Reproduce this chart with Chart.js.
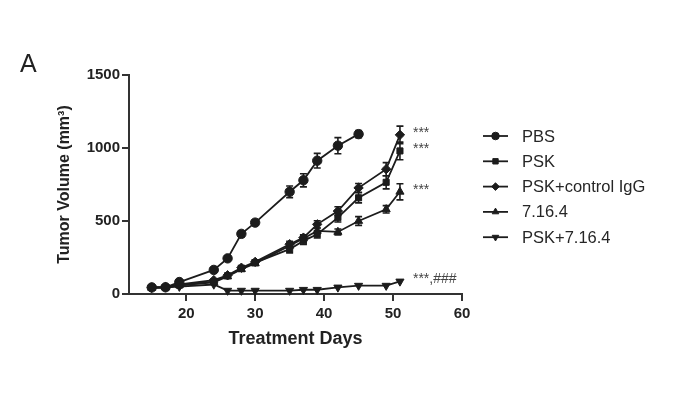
<!DOCTYPE html>
<html>
<head>
<meta charset="utf-8">
<script src="https://cdn.jsdelivr.net/npm/chart.js@4.4.1/dist/chart.umd.min.js"></script>
<style>
  html, body { margin: 0; padding: 0; background: #fff; }
  #wrap { width: 693px; height: 399px; position: relative; }
</style>
</head>
<body>
<div id="wrap"><canvas id="chart" width="693" height="399"></canvas></div>
<script>
  // ---------------- Data ----------------
  const days = [15, 17, 19, 24, 26, 28, 30, 35, 37, 39, 42, 45, 49, 51];
  const xTicks = [20, 30, 40, 50, 60];

  const pbs      = [45, 46, 82, 165, 244, 412, 489, 700, 779, 913, 1016, 1095];
  const pbsErr   = [8, 8, 10, 15, 15, 20, 15, 40, 45, 50, 55, 25];
  const psk      = [45, 45, 60, 85, 125, 175, 215, 307, 364, 409, 523, 659, 765, 980];
  const pskErr   = [5, 5, 8, 10, 12, 15, 15, 25, 25, 25, 30, 35, 45, 60];
  const pskIgg   = [45, 47, 65, 95, 128, 180, 220, 341, 386, 477, 568, 727, 855, 1090];
  const pskIggErr = [5, 5, 8, 10, 12, 15, 15, 20, 20, 25, 30, 30, 45, 60];
  const ab7164   = [42, 45, 60, 80, 120, 170, 210, 330, 380, 432, 425, 500, 580, 700];
  const ab7164Err = [5, 5, 8, 10, 10, 15, 15, 20, 20, 20, 20, 30, 25, 55];
  const combo    = [42, 45, 50, 65, 23, 23, 23, 23, 29, 29, 45, 57, 57, 86];
  const comboErr = [5, 5, 5, 10, 5, 5, 5, 5, 5, 5, 5, 8, 8, 10];

  const seriesNames = ["PBS", "PSK", "PSK+control IgG", "7.16.4", "PSK+7.16.4"];
  const seriesMarks = ["***", "***", "***", "***,###"]; // for PSK+IgG, PSK, 7.16.4, PSK+7.16.4

  const INK = "#1c1c1c";
  const FONT = "'Liberation Sans', Arial, sans-serif";

  function pts(vals) {
    return vals.map((v, i) => ({ x: days[i], y: v }));
  }

  function ds(label, vals, err, style, rot = 0, mark = null) {
    return {
      label,
      data: pts(vals),
      err,
      mark,
      borderColor: INK,
      backgroundColor: INK,
      pointBackgroundColor: INK,
      pointBorderColor: INK,
      borderWidth: 1.8,
      pointStyle: style,
      pointRotation: rot,
      pointRadius: style === "rect" ? 4.3 : 4.7,
      pointBorderWidth: 1,
      tension: 0,
      clip: false,
    };
  }

  const datasets = [
    ds(seriesNames[0], pbs, pbsErr, "circle"),
    ds(seriesNames[1], psk, pskErr, "rect", 0, seriesMarks[1]),
    ds(seriesNames[2], pskIgg, pskIggErr, "rectRot", 0, seriesMarks[0]),
    ds(seriesNames[3], ab7164, ab7164Err, "triangle", 0, seriesMarks[2]),
    ds(seriesNames[4], combo, comboErr, "triangle", 180, seriesMarks[3]),
  ];

  // ---------------- Error bars ----------------
  const errorBars = {
    id: "errorBars",
    beforeDatasetsDraw(chart) {
      const { ctx, scales: { x, y } } = chart;
      ctx.save();
      ctx.strokeStyle = INK;
      ctx.lineWidth = 1.6;
      chart.data.datasets.forEach((d) => {
        d.data.forEach((p, i) => {
          const e = d.err[i] || 0;
          if (e < 12) return;
          const px = x.getPixelForValue(p.x);
          const top = y.getPixelForValue(p.y + e);
          const bot = y.getPixelForValue(p.y - e);
          ctx.beginPath();
          ctx.moveTo(px, top); ctx.lineTo(px, bot);
          ctx.moveTo(px - 3.5, top); ctx.lineTo(px + 3.5, top);
          ctx.moveTo(px - 3.5, bot); ctx.lineTo(px + 3.5, bot);
          ctx.stroke();
        });
      });
      ctx.restore();
    },
  };

  // ---------------- Stars, legend, panel letter ----------------
  const extras = {
    id: "extras",
    afterDraw(chart) {
      const { ctx, scales: { x, y } } = chart;
      ctx.save();

      // significance marks at the end of each series
      ctx.fillStyle = "#444";
      ctx.font = `14px ${FONT}`;
      ctx.textBaseline = "middle";
      chart.data.datasets.forEach((d) => {
        if (!d.mark) return;
        const last = d.data[d.data.length - 1];
        ctx.fillText(d.mark, x.getPixelForValue(last.x) + 13, y.getPixelForValue(last.y) - 2);
      });

      // legend
      const lx = 483, top = 136, gap = 25.3;
      chart.data.datasets.forEach((d, i) => {
        const ly = top + i * gap;
        ctx.strokeStyle = INK;
        ctx.fillStyle = INK;
        ctx.lineWidth = 1.8;
        ctx.beginPath();
        ctx.moveTo(lx, ly); ctx.lineTo(lx + 25, ly);
        ctx.stroke();
        ctx.lineWidth = 1;
        Chart.helpers.drawPoint(ctx, {
          pointStyle: d.pointStyle, rotation: d.pointRotation, radius: 3.8, borderWidth: 1,
        }, lx + 12.5, ly);
        ctx.fillStyle = "#262626";
        ctx.font = `16.5px ${FONT}`;
        ctx.textBaseline = "middle";
        ctx.fillText(d.label, lx + 39, ly + 1);
      });

      // panel letter
      ctx.fillStyle = "#222";
      ctx.font = `25px ${FONT}`;
      ctx.textBaseline = "alphabetic";
      ctx.fillText("A", 20, 72);
      ctx.restore();
    },
  };

  new Chart(document.getElementById("chart"), {
    type: "line",
    data: { datasets },
    plugins: [errorBars, extras],
    options: {
      responsive: false,
      animation: false,
      layout: { padding: { left: 55, right: 231, top: 75, bottom: 49 } },
      plugins: { legend: { display: false }, tooltip: { enabled: false } },
      scales: {
        x: {
          type: "linear",
          min: 11.7,
          max: 60,
          afterBuildTicks: (s) => { s.ticks = xTicks.map((v) => ({ value: v })); },
          afterFit: (s) => { s.height = 56; },
          border: { color: "#333", width: 2 },
          grid: { drawOnChartArea: false, color: "#333", lineWidth: 2, tickLength: 7 },
          ticks: { color: "#222", padding: 4, font: { family: FONT, size: 15, weight: "bold" } },
          title: {
            display: true,
            text: "Treatment Days",
            color: "#222",
            padding: 0,
            font: { family: FONT, size: 18, weight: "bold" },
          },
        },
        y: {
          min: 0,
          max: 1500,
          afterFit: (s) => { s.width = 74; },
          border: { color: "#333", width: 2 },
          grid: { drawOnChartArea: false, color: "#333", lineWidth: 2, tickLength: 7 },
          ticks: {
            stepSize: 500,
            color: "#222",
            padding: 2,
            font: { family: FONT, size: 15, weight: "bold" },
            callback: (v) => String(v),
          },
          title: {
            display: true,
            text: "Tumor Volume (mm³)",
            color: "#222",
            padding: 0,
            font: { family: FONT, size: 16, weight: "bold" },
          },
        },
      },
    },
  });
</script>
</body>
</html>
